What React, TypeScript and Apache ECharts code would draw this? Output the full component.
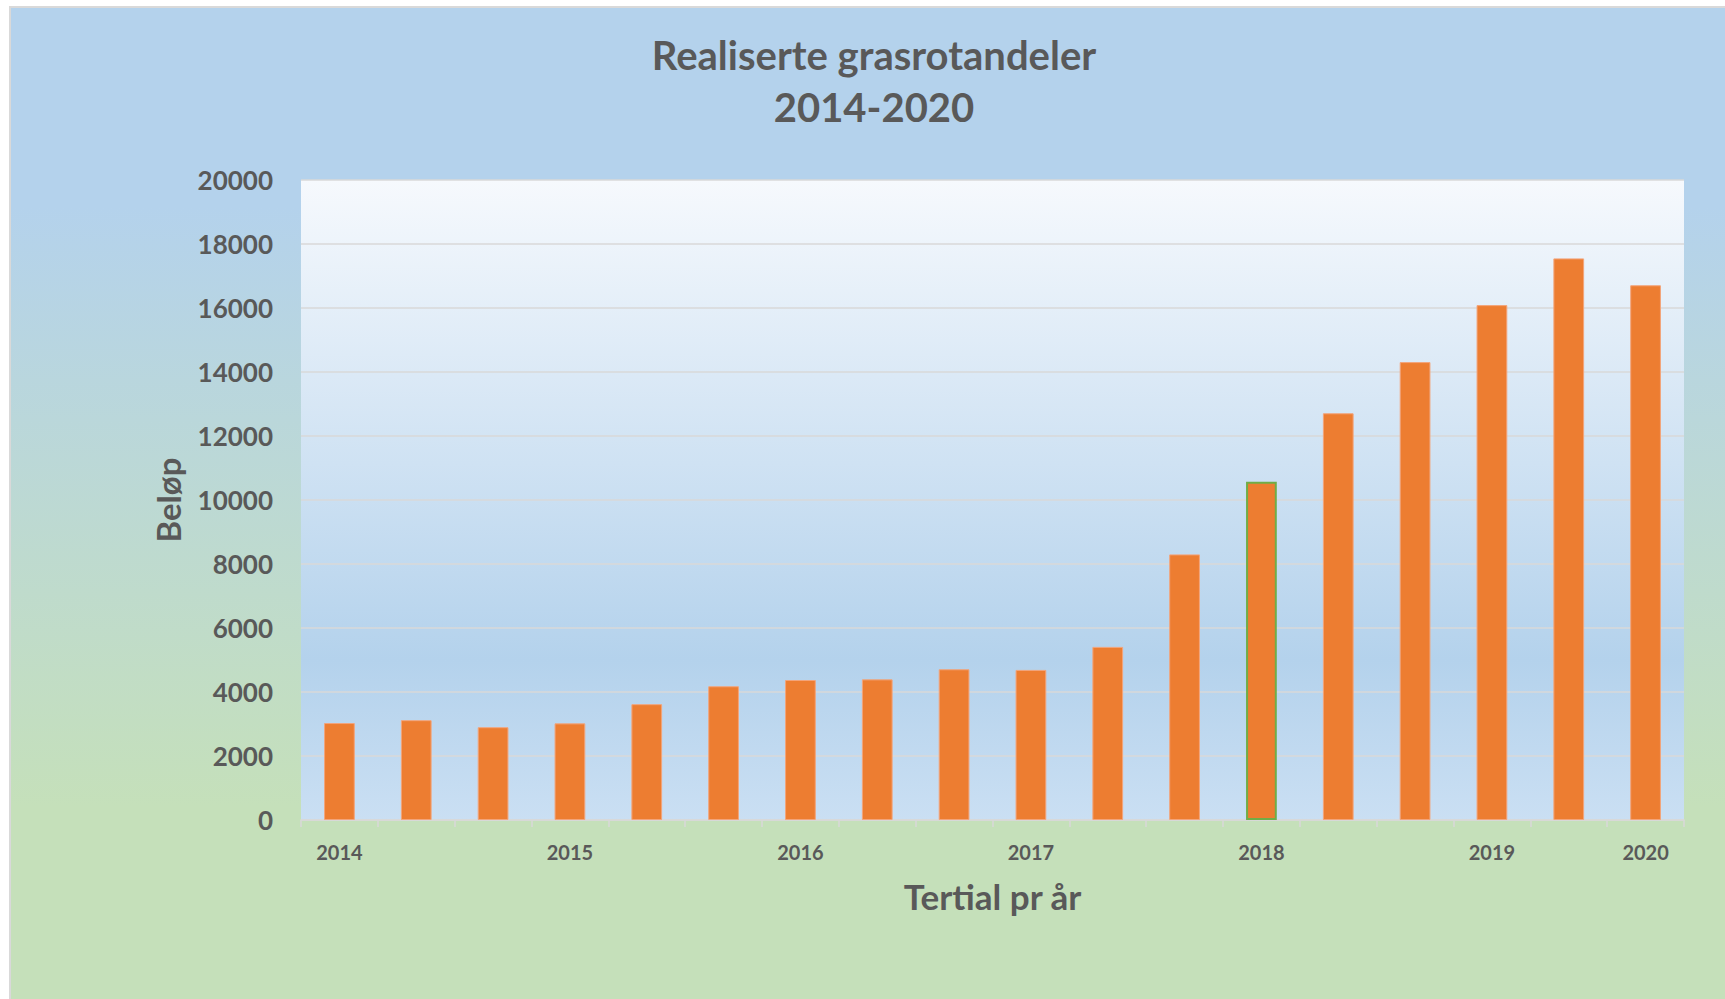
import React, { useEffect, useRef } from "react";
import * as echarts from "echarts";

const categories = ["2014", "", "", "2015", "", "", "2016", "", "", "2017", "", "", "2018", "", "", "2019", "", "2020"];
const values = [3030, 3120, 2900, 3020, 3620, 4180, 4375, 4395, 4710, 4690, 5410, 8300, 10570, 12710, 14310, 16090, 17550, 16710];
const highlightIndex = 12;
const titleLines = ["Realiserte grasrotandeler", "2014-2020"];
const xName = "Tertial pr år";
const yName = "Beløp";

export default function App() {
  const ref = useRef<HTMLDivElement>(null);
  useEffect(() => {
    if (!ref.current) return;
    const chart = echarts.init(ref.current, null, { renderer: "svg" });
    const textColor = "#595959";
    const font = "Lato";
    chart.setOption({
      animation: false,
      backgroundColor: "#ffffff",
      graphic: [
        {
          type: "rect",
          z: -10,
          silent: true,
          shape: { x: 10, y: 7, width: 1730, height: 1000 },
          style: {
            fill: new echarts.graphic.LinearGradient(0, 0, 0, 1, [
              { offset: 0, color: "#b4d2ec" },
              { offset: 0.2, color: "#b4d2ec" },
              { offset: 0.8, color: "#c5e0ba" },
              { offset: 1, color: "#c5e0ba" },
            ]),
            stroke: "#d9d9d9",
            lineWidth: 2,
          },
        },
      ],
      title: {
        text: titleLines.join("\n"),
        left: 869,
        textAlign: "center",
        top: 24,
        textStyle: {
          color: textColor,
          fontFamily: font,
          fontWeight: "bold",
          fontSize: 40,
          lineHeight: 52,
        },
      },
      grid: {
        left: 301,
        top: 180,
        right: 41,
        bottom: 179,
        show: true,
        borderWidth: 0,
        backgroundColor: new echarts.graphic.LinearGradient(0, 0, 0, 1, [
          { offset: 0, color: "#f6f9fd" },
          { offset: 0.75, color: "#b4d2ec" },
          { offset: 1, color: "#cadff3" },
        ]),
      },
      xAxis: {
        type: "category",
        data: categories,
        name: xName,
        nameLocation: "middle",
        nameGap: 58,
        nameTextStyle: { color: textColor, fontFamily: font, fontWeight: "bold", fontSize: 35 },
        axisLine: { show: true, lineStyle: { color: "#d9d9d9", width: 1.5 } },
        axisTick: { show: true, interval: 0, length: 7, lineStyle: { color: "#d9d9d9", width: 1.5 } },
        axisLabel: {
          interval: 0,
          margin: 22,
          color: textColor,
          fontFamily: font,
          fontWeight: "bold",
          fontSize: 20,
        },
      },
      yAxis: {
        type: "value",
        min: 0,
        max: 20000,
        interval: 2000,
        name: yName,
        nameLocation: "middle",
        nameGap: 117,
        nameRotate: 90,
        nameTextStyle: { color: textColor, fontFamily: font, fontWeight: "bold", fontSize: 33 },
        axisLine: { show: false },
        axisTick: { show: false },
        splitLine: { lineStyle: { color: "#d9d9d9", width: 1.5 } },
        axisLabel: {
          margin: 28,
          color: textColor,
          fontFamily: font,
          fontWeight: "bold",
          fontSize: 26,
          formatter: (v: number) => String(v),
        },
      },
      series: [
        {
          type: "bar",
          barWidth: "40%",
          data: values.map((v, i) => ({
            value: v,
            itemStyle:
              i === highlightIndex
                ? { color: "#ed7d31", borderColor: "#70ad47", borderWidth: 2 }
                : { color: "#ed7d31", borderColor: "#f3a47a", borderWidth: 1 },
          })),
        },
      ],
    });
    return () => chart.dispose();
  }, []);
  return (
    <div
      ref={ref}
      style={{ position: "fixed", left: 0, top: 0, width: 1725, height: 999 }}
    />
  );
}
